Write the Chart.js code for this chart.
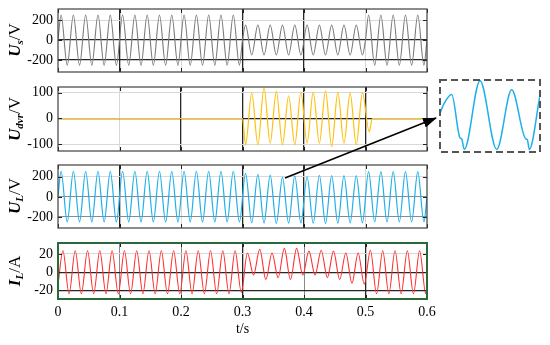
<!DOCTYPE html>
<html><head><meta charset="utf-8">
<script src="https://cdn.jsdelivr.net/npm/chart.js@4.4.0/dist/chart.umd.min.js"></script>
<style>
html,body{margin:0;padding:0;background:#fff;}
body{width:550px;height:345px;position:relative;overflow:hidden;font-family:"Liberation Serif",serif;}
canvas{position:absolute;left:0;}
.yl{position:absolute;left:15px;transform:translate(-50%,-50%) rotate(-90deg);white-space:nowrap;font-size:17px;color:#000;line-height:1;}
.yl b{font-style:italic;}
.yl sub{font-size:11px;font-weight:bold;font-style:italic;vertical-align:-3px;}
svg{position:absolute;left:0;top:0;}
</style></head><body>
<canvas id="c1" width="440" height="80" style="top:0px"></canvas>
<canvas id="c2" width="440" height="77" style="top:80px"></canvas>
<canvas id="c3" width="440" height="76" style="top:157px"></canvas>
<canvas id="c4" width="440" height="112" style="top:233px"></canvas>
<canvas id="c5" width="100" height="72" style="left:440px;top:80px"></canvas>
<div class="yl" style="top:40px"><b>U</b><sub>s</sub>/V</div>
<div class="yl" style="top:119px"><b>U</b><sub>dvr</sub>/V</div>
<div class="yl" style="top:196px"><b>U</b><sub>L</sub>/V</div>
<div class="yl" style="top:271px"><b>I</b><sub>L</sub>/A</div>
<svg width="550" height="345">
<defs><marker id="ah" markerWidth="14" markerHeight="10" refX="13" refY="5" orient="auto" markerUnits="userSpaceOnUse"><path d="M0,0 L14,5 L0,10 Z" fill="#000"/></marker></defs>
<line x1="285" y1="178" x2="436" y2="118" stroke="#000" stroke-width="1.5" marker-end="url(#ah)"/>
<rect x="440" y="80" width="100" height="72" fill="none" stroke="#555" stroke-width="2" stroke-dasharray="7,4"/>
</svg>
<script>
// ---- axis ticks ----
const xTicks = [0, 0.1, 0.2, 0.3, 0.4, 0.5, 0.6];
const xTickLabels = ['0', '0.1', '0.2', '0.3', '0.4', '0.5', '0.6'];
const usTicks = [-200, 0, 200];
const usTickLabels = ['-200', '0', '200'];
const dvrTicks = [-100, 0, 100];
const dvrTickLabels = ['-100', '0', '100'];
const ulTicks = [-200, 0, 200];
const ulTickLabels = ['-200', '0', '200'];
const ilTicks = [-20, 0, 20];
const ilTickLabels = ['-20', '0', '20'];

// ---- source voltage Us (extrema, V) ----
const tUs = [0, 0.005, 0.015, 0.025, 0.035, 0.045, 0.055, 0.065, 0.075, 0.085, 0.095,
  0.105, 0.115, 0.125, 0.135, 0.145, 0.155, 0.165, 0.175, 0.185, 0.195,
  0.205, 0.215, 0.225, 0.235, 0.245, 0.255, 0.265, 0.275, 0.285, 0.295, 0.3,
  0.305, 0.315, 0.325, 0.335, 0.345, 0.355, 0.365, 0.375, 0.385, 0.395,
  0.405, 0.415, 0.425, 0.435, 0.445, 0.455, 0.465, 0.475, 0.485, 0.495, 0.5,
  0.505, 0.515, 0.525, 0.535, 0.545, 0.555, 0.565, 0.575, 0.585, 0.595, 0.6];
const vUs = [0, 250, -252, 250, -252, 250, -252, 250, -252, 250, -252,
  250, -252, 250, -252, 250, -252, 250, -252, 250, -252,
  250, -252, 250, -252, 250, -252, 250, -252, 250, -252, 0,
  150, -150, 150, -150, 150, -150, 150, -150, 150, -150,
  150, -150, 150, -150, 150, -150, 150, -150, 150, -150, 0,
  250, -252, 250, -252, 250, -252, 250, -252, 250, -252, 0];

// ---- DVR voltage Udvr (V) ----
const tDvr = [0, 0.3, 0.305, 0.315, 0.325, 0.335, 0.345, 0.355, 0.365, 0.375, 0.385, 0.395,
  0.405, 0.415, 0.425, 0.435, 0.445, 0.455, 0.465, 0.475, 0.485, 0.495, 0.506, 0.511, 0.6];
const vDvr = [0, 0, -102, 99, -102, 119, -96, 105, -102, 88, -102, 102,
  -96, 102, -96, 107, -109, 102, -96, 99, -102, 99, -51, 0, 0];

// ---- load voltage UL (V) ----
const tUL = [0, 0.005, 0.015, 0.025, 0.035, 0.045, 0.055, 0.065, 0.075, 0.085, 0.095,
  0.105, 0.115, 0.125, 0.135, 0.145, 0.155, 0.165, 0.175, 0.185, 0.195,
  0.205, 0.215, 0.225, 0.235, 0.245, 0.255, 0.265, 0.275, 0.285, 0.295,
  0.305, 0.315, 0.325, 0.335, 0.345, 0.355, 0.365, 0.375, 0.385, 0.395,
  0.405, 0.415, 0.425, 0.435, 0.445, 0.455, 0.465, 0.475, 0.485, 0.495,
  0.505, 0.515, 0.525, 0.535, 0.545, 0.555, 0.565, 0.575, 0.585, 0.595, 0.6];
const vUL = [0, 255, -250, 255, -250, 255, -250, 255, -250, 255, -250,
  255, -250, 255, -250, 255, -250, 255, -250, 255, -250,
  255, -250, 255, -250, 255, -250, 255, -250, 255, -250,
  234, -258, 224, -262, 217, -265, 193, -262, 210, -260,
  200, -262, 215, -265, 212, -262, 212, -260, 212, -258,
  252, -250, 252, -250, 252, -250, 252, -250, 252, -250, 0];

// ---- load current IL (A) ----
const tIL = [0, 0.008, 0.018, 0.028, 0.038, 0.048, 0.058, 0.068, 0.078, 0.088, 0.098,
  0.108, 0.118, 0.128, 0.138, 0.148, 0.158, 0.168, 0.178, 0.188, 0.198,
  0.208, 0.218, 0.228, 0.238, 0.248, 0.258, 0.268, 0.278, 0.288, 0.298,
  0.308, 0.318, 0.328, 0.338, 0.348, 0.358, 0.368, 0.378, 0.388, 0.398,
  0.408, 0.418, 0.428, 0.438, 0.448, 0.458, 0.468, 0.478, 0.488, 0.498,
  0.508, 0.518, 0.528, 0.538, 0.548, 0.558, 0.568, 0.578, 0.588, 0.598, 0.6];
const vIL = [-14, 23.5, -23.5, 23.5, -23.5, 23.5, -23.5, 23.5, -23.5, 23.5, -23.5,
  23.5, -23.5, 23.5, -23.5, 23.5, -23.5, 23.5, -23.5, 23.5, -23.5,
  23.5, -23.5, 23.5, -23.5, 23.5, -23.5, 23.5, -23.5, 23.5, -22,
  21, -3, 25, -8, 21, -6, 26, -8, 26, -3,
  23, -3, 24, -6, 23, -8, 21, -12, 21, -13,
  24, -23.5, 23.5, -23.5, 23.5, -23.5, 23.5, -23.5, 23.5, -23.5, -16];

// ---- zoomed inset of UL ----
const tInset = [0, 4, 11.7, 20, 21.7, 24.3, 40, 56.7, 71.7, 85.7, 87.3, 89.3, 100];
const vInset = [20, 95, 165, -167, -175, -255, 270, -255, 200, -175, -180, -255, 157];

// ---- styles ----
const DARK = '#262626', LIGHT = '#d8d8d8', MID = '#8a8a8a', NONE = 'rgba(0,0,0,0)';
const FONT = {family: '"Liberation Serif", "Times New Roman", serif', size: 14};

const framePlugin = {
  id: 'frame',
  afterDatasetsDraw(chart, args, opts) {
    if (!opts || !opts.color) return;
    const {ctx, chartArea: a, scales} = chart;
    ctx.save();
    ctx.strokeStyle = '#222'; ctx.lineWidth = 1;
    ctx.beginPath();
    scales.x.ticks.forEach(t => {
      const x = Math.round(scales.x.getPixelForValue(t.value)) + 0.5;
      ctx.moveTo(x, a.top); ctx.lineTo(x, a.top + 4);
      ctx.moveTo(x, a.bottom); ctx.lineTo(x, a.bottom - 4);
    });
    scales.y.ticks.forEach(t => {
      const y = Math.round(scales.y.getPixelForValue(t.value)) + 0.5;
      ctx.moveTo(a.left, y); ctx.lineTo(a.left + 4, y);
      ctx.moveTo(a.right, y); ctx.lineTo(a.right - 4, y);
    });
    ctx.stroke();
    ctx.strokeStyle = opts.color; ctx.lineWidth = opts.width;
    ctx.strokeRect(a.left, a.top, a.right - a.left, a.bottom - a.top);
    ctx.restore();
  }
};
Chart.register(framePlugin);

function pairs(ts, vs) { return ts.map((t, i) => ({x: t, y: vs[i]})); }

function panel(id, ts, vs, color, lw, yMin, yMax, yT, yL, hCol, vCol, frameCol, frameW, padTop, padBottom, showX) {
  return new Chart(document.getElementById(id), {
    type: 'line',
    data: {datasets: [{data: pairs(ts, vs), borderColor: color, borderWidth: lw, pointRadius: 0,
      cubicInterpolationMode: 'monotone', fill: false}]},
    options: {
      responsive: false, animation: false, events: [],
      layout: {padding: {left: 0, right: 13, top: padTop, bottom: padBottom}},
      plugins: {legend: {display: false}, tooltip: {enabled: false},
        frame: {color: frameCol, width: frameW}},
      scales: {
        x: {type: 'linear', min: 0, max: 0.6,
          afterBuildTicks: s => { s.ticks = xTicks.map(v => ({value: v})); },
          afterFit: s => { s.height = showX ? 46 : 0; s.paddingLeft = 0; s.paddingRight = 0; },
          grid: {drawTicks: false, color: c => vCol[c.index] || NONE,
            lineWidth: c => (vCol[c.index] === DARK ? 1.3 : 1)},
          border: {display: false},
          ticks: {display: showX, padding: 5, color: '#000', font: FONT, maxRotation: 0,
            callback: (v, i) => xTickLabels[i]},
          title: {display: showX, text: 't/s', color: '#000', font: FONT, padding: {top: 0, bottom: 7}}
        },
        y: {type: 'linear', min: yMin, max: yMax,
          afterBuildTicks: s => { s.ticks = yT.map(v => ({value: v})); },
          afterFit: s => { s.width = 58; s.paddingTop = 0; s.paddingBottom = 0; },
          grid: {drawTicks: false, color: c => hCol[c.index] || NONE,
            lineWidth: c => (hCol[c.index] === DARK ? 1.3 : 1)},
          border: {display: false},
          ticks: {padding: 5, color: '#000', font: FONT, callback: (v, i) => yL[i]}
        }
      }
    }
  });
}

panel('c1', tUs, vUs, '#7a7a7a', 1.1, -320, 310, usTicks, usTickLabels,
  [DARK, DARK, LIGHT], [NONE, DARK, LIGHT, DARK, DARK, LIGHT, NONE], '#404040', 1.2, 9, 8, false);
panel('c2', tDvr, vDvr, '#ffc010', 1.2, -126, 122, dvrTicks, dvrTickLabels,
  [LIGHT, DARK, LIGHT], [NONE, LIGHT, DARK, DARK, DARK, DARK, NONE], '#404040', 1.2, 7, 6, false);
panel('c3', tUL, vUL, '#1fb0ea', 1.2, -310, 317, ulTicks, ulTickLabels,
  [MID, MID, LIGHT], [NONE, DARK, LIGHT, DARK, DARK, LIGHT, NONE], '#404040', 1.2, 8, 5, false);
panel('c4', tIL, vIL, '#ff3030', 1.1, -29.3, 31.9, ilTicks, ilTickLabels,
  [DARK, DARK, LIGHT], [NONE, MID, MID, DARK, MID, DARK, NONE], '#2a6a3a', 2, 10, 0, true);

new Chart(document.getElementById('c5'), {
  type: 'line',
  data: {datasets: [{data: pairs(tInset, vInset), borderColor: '#1fb0ea', borderWidth: 1.5, pointRadius: 0,
    cubicInterpolationMode: 'monotone', fill: false}]},
  options: {
    responsive: false, animation: false, events: [],
    layout: {padding: 0},
    plugins: {legend: {display: false}, tooltip: {enabled: false}},
    scales: {x: {type: 'linear', min: 0, max: 100, display: false},
             y: {type: 'linear', min: -275, max: 275, display: false}}
  }
});
</script>
</body></html>
